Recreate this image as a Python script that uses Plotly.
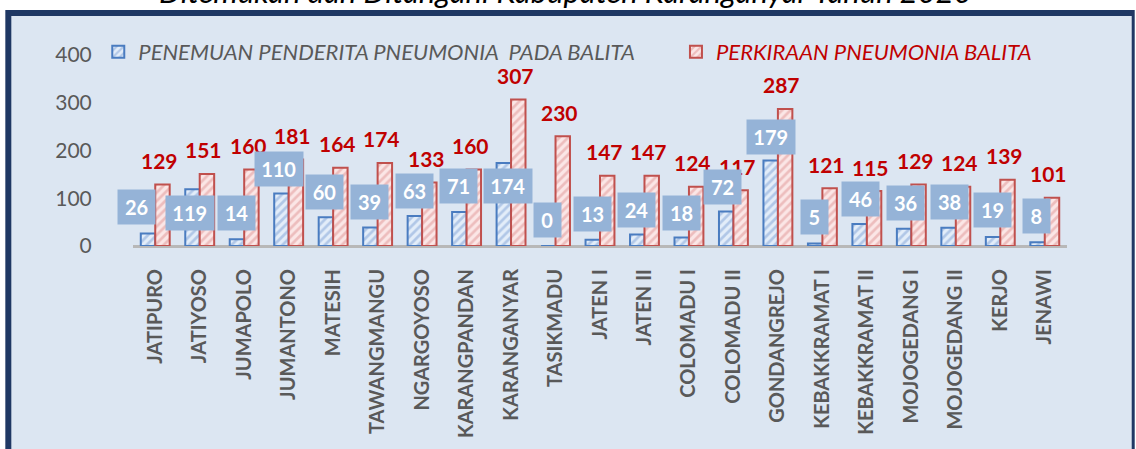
import plotly.graph_objects as go

# ---------------- data ----------------
categories = ["JATIPURO", "JATIYOSO", "JUMAPOLO", "JUMANTONO", "MATESIH", "TAWANGMANGU",
              "NGARGOYOSO", "KARANGPANDAN", "KARANGANYAR", "TASIKMADU", "JATEN I", "JATEN II",
              "COLOMADU I", "COLOMADU II", "GONDANGREJO", "KEBAKKRAMAT I", "KEBAKKRAMAT II",
              "MOJOGEDANG I", "MOJOGEDANG II", "KERJO", "JENAWI"]
penemuan = [26, 119, 14, 110, 60, 39, 63, 71, 174, 0, 13, 24, 18, 72, 179, 5, 46, 36, 38, 19, 8]
perkiraan = [129, 151, 160, 181, 164, 174, 133, 160, 307, 230, 147, 147, 124, 117, 287, 121, 115,
             129, 124, 139, 101]
y_ticks = [0, 100, 200, 300, 400]
name_blue = "PENEMUAN PENDERITA PNEUMONIA&nbsp; PADA BALITA"
name_red = "PERKIRAAN PNEUMONIA BALITA"
title_text = "Ditemukan dan Ditangani Kabupaten Karanganyar Tahun 2020"

# ---------------- layout / style (label placement, as in the source chart) ----------------
blue_label_y = [81, 69, 69, 161, 113, 92, 115, 125, 126, 54, 68, 75, 69, 124, 228, 61, 98, 90, 92, 75, 63]
blue_label_dx = [-19, -10, -8, -10, -9, -8, -8, -8, -3, -8, -8, -8, -7, -11, -7, -8, -6, -6, -6, -8, -8]

W, H = 1136, 449
L, R, T, B = 132.75, 68.75, 55, 203
PW, PH = W - L - R, H - T - B

def px(x):
    return (x - L) / PW

def py(y):
    return (H - B - y) / PH

FONT = "Lato"
GRAY = "#595959"
DARKRED = "#c00000"

fig = go.Figure()
fig.add_trace(go.Bar(
    x=categories, y=penemuan, name=name_blue, legend="legend",
    marker=dict(color="#dbe7f6", line=dict(color="#4a7cc0", width=2),
                pattern=dict(shape="/", fgcolor="#7fa2d6", bgcolor="#e3edf9", size=6, solidity=0.45)),
))
fig.add_trace(go.Bar(
    x=categories, y=perkiraan, name=name_red, legend="legend2",
    marker=dict(color="#f7d6d6", line=dict(color="#c0504d", width=2),
                pattern=dict(shape="/", fgcolor="#e09494", bgcolor="#fbe6e6", size=6, solidity=0.45)),
))

annotations = []
for c, v in zip(categories, perkiraan):
    annotations.append(dict(x=c, y=v, xref="x", yref="y", text="<b>%d</b>" % v, showarrow=False,
                            xshift=4, yshift=24, yanchor="middle",
                            font=dict(family=FONT, size=21, color=DARKRED)))
for c, v, ly, dx in zip(categories, penemuan, blue_label_y, blue_label_dx):
    s = str(v)
    annotations.append(dict(x=c, y=ly, xref="x", yref="y", text="<b>%s</b>" % s, showarrow=False,
                            xshift=dx, yanchor="middle", bgcolor="#95b3d7",
                            width=10.5 * len(s) + 16, height=34, borderpad=0,
                            font=dict(family=FONT, size=20, color="white")))
annotations.append(dict(x=px(565), y=py(12), xref="paper", yref="paper", text=title_text,
                        showarrow=False, yanchor="bottom", xanchor="center",
                        font=dict(family=FONT, size=31, color="#000000", style="italic")))

shapes = [
    dict(type="rect", xref="paper", yref="paper", x0=px(5), x1=px(1135), y0=py(10), y1=py(470),
         fillcolor="#1f3864", line=dict(width=0), layer="below"),
    dict(type="rect", xref="paper", yref="paper", x0=px(11), x1=px(1132), y0=py(16), y1=py(470),
         fillcolor="#dce6f2", line=dict(width=0), layer="below"),
]

legend_common = dict(orientation="h", xanchor="left", yanchor="middle", bgcolor="rgba(0,0,0,0)")

fig.update_layout(
    width=W, height=H,
    margin=dict(l=L, r=R, t=T, b=B, autoexpand=False),
    paper_bgcolor="white", plot_bgcolor="rgba(0,0,0,0)",
    barmode="group", bargap=0.35, bargroupgap=0.0,
    showlegend=True,
    legend=dict(x=px(98), y=py(52), font=dict(family=FONT, size=22, color=GRAY, style="italic"),
                **legend_common),
    legend2=dict(x=px(676), y=py(52), font=dict(family=FONT, size=22, color=DARKRED, style="italic"),
                 **legend_common),
    xaxis=dict(range=[-0.5, len(categories) - 0.5], autorange=False,
               showgrid=False, showline=False, zeroline=False, tickangle=-90,
               ticks="outside", ticklen=14, tickcolor="rgba(0,0,0,0)",
               tickfont=dict(family=FONT, size=20, color=GRAY, weight="bold"), automargin=False),
    yaxis=dict(range=[0, 400], autorange=False, tickvals=y_ticks, showgrid=False, showline=False,
               zeroline=True, zerolinecolor="#b8b8b8", zerolinewidth=3,
               ticks="outside", ticklen=36, tickcolor="rgba(0,0,0,0)",
               tickfont=dict(family=FONT, size=21, color=GRAY), automargin=False),
    annotations=annotations, shapes=shapes,
)

fig.write_html("out.html", config={"responsive": False, "displayModeBar": False},
               post_script="document.body.style.margin='0px';document.body.style.padding='0px';")
